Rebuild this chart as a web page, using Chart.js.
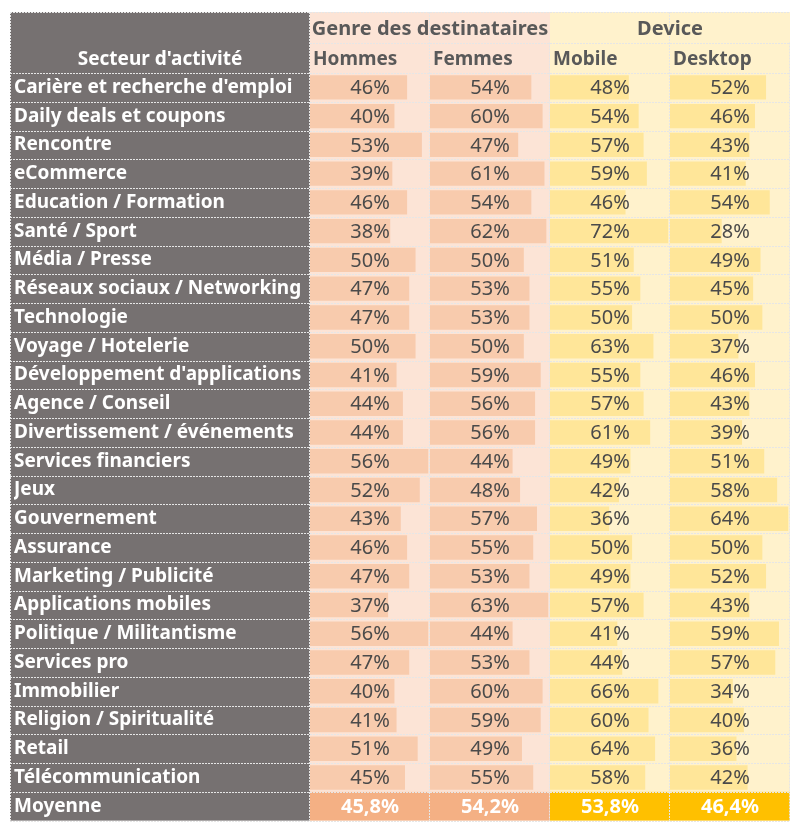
<!DOCTYPE html>
<html>
<head>
<meta charset="utf-8">
<script src="https://cdn.jsdelivr.net/npm/chart.js@4.4.1/dist/chart.umd.min.js"></script>
<style>
html, body { margin: 0; padding: 0; background: #fff; }
#chart-container { width: 797px; height: 835px; }
</style>
</head>
<body>
<div id="chart-container"><canvas id="chart"></canvas></div>
<script>
const sectors = [
    "Carière et recherche d'emploi", "Daily deals et coupons", "Rencontre", "eCommerce",
    "Education / Formation", "Santé / Sport", "Média / Presse", "Réseaux sociaux / Networking",
    "Technologie", "Voyage / Hotelerie", "Développement d'applications", "Agence / Conseil",
    "Divertissement / événements", "Services financiers", "Jeux", "Gouvernement", "Assurance",
    "Marketing / Publicité", "Applications mobiles", "Politique / Militantisme", "Services pro",
    "Immobilier", "Religion / Spiritualité", "Retail", "Télécommunication"
];
const summaryLabel = "Moyenne";
const hommes  = [46, 40, 53, 39, 46, 38, 50, 47, 47, 50, 41, 44, 44, 56, 52, 43, 46, 47, 37, 56, 47, 40, 41, 51, 45];
const femmes  = [54, 60, 47, 61, 54, 62, 50, 53, 53, 50, 59, 56, 56, 44, 48, 57, 55, 53, 63, 44, 53, 60, 59, 49, 55];
const mobile  = [48, 54, 57, 59, 46, 72, 51, 55, 50, 63, 55, 57, 61, 49, 42, 36, 50, 49, 57, 41, 44, 66, 60, 64, 58];
const desktop = [52, 46, 43, 41, 54, 28, 49, 45, 50, 37, 46, 43, 39, 51, 58, 64, 50, 52, 43, 59, 57, 34, 40, 36, 42];
const averages = [45.8, 54.2, 53.8, 46.4];

const columnLabels = ["Hommes", "Femmes", "Mobile", "Desktop"];
const groupLabels = ["Genre des destinataires", "Device"];
const sectorHeader = "Secteur d'activité";

const columnData = [hommes, femmes, mobile, desktop];
const axisIds = ["xH", "xF", "xM", "xD"];
const cellColors = ["#fce4d6", "#fce4d6", "#fff2cc", "#fff2cc"];
const barColors = ["#f8cbad", "#f8cbad", "#ffe699", "#ffe699"];
const avgColors = ["#f4b084", "#f4b084", "#ffc000", "#ffc000"];
const grayColor = "#767171";
const lineColor = "#e6e6e6";
const FONT = "'Noto Sans'";

const tableLeft = 10;
const tableTop = 12;

function fmtAvg(v) {
    return v.toFixed(1).replace(".", ",") + "%";
}

const tablePlugin = {
    id: "tablePlugin",
    beforeDraw(chart) {
        const ctx = chart.ctx;
        const area = chart.chartArea;
        const y = chart.scales.y;
        const rowH = y.getPixelForValue(1) - y.getPixelForValue(0);
        const headerMid = (tableTop + area.top) / 2;
        const lastTop = y.getPixelForValue(sectors.length) - rowH / 2;

        ctx.save();
        // left gray column
        ctx.fillStyle = grayColor;
        ctx.fillRect(tableLeft, tableTop, area.left - tableLeft, area.bottom - tableTop);

        // column backgrounds + summary row
        axisIds.forEach((id, i) => {
            const s = chart.scales[id];
            ctx.fillStyle = cellColors[i];
            ctx.fillRect(s.left, tableTop, s.right - s.left, lastTop - tableTop);
            ctx.fillStyle = avgColors[i];
            ctx.fillRect(s.left, lastTop, s.right - s.left, area.bottom - lastTop);
        });

        // dotted borders
        ctx.strokeStyle = lineColor;
        ctx.lineWidth = 1;
        ctx.setLineDash([2, 1]);
        const hLine = (x1, x2, yy) => {
            ctx.beginPath();
            ctx.moveTo(x1, Math.round(yy) + 0.5);
            ctx.lineTo(x2, Math.round(yy) + 0.5);
            ctx.stroke();
        };
        const vLine = (xx, y1, y2) => {
            ctx.beginPath();
            ctx.moveTo(Math.round(xx) - 0.5, y1);
            ctx.lineTo(Math.round(xx) - 0.5, y2);
            ctx.stroke();
        };
        hLine(tableLeft, area.right, tableTop);
        hLine(area.left, area.right, headerMid);
        for (let j = 0; j <= sectors.length + 1; j++) {
            hLine(tableLeft, area.right, y.getPixelForValue(j) - rowH / 2);
        }
        vLine(tableLeft + 1, tableTop, area.bottom);
        vLine(area.left, tableTop, area.bottom);
        axisIds.forEach((id, i) => {
            const s = chart.scales[id];
            const startY = (i % 2 === 1) ? headerMid : tableTop;
            vLine(s.right, startY, area.bottom);
        });
        ctx.setLineDash([]);

        // header texts
        ctx.textBaseline = "middle";
        ctx.fillStyle = "#ffffff";
        ctx.font = "bold 19px " + FONT;
        ctx.textAlign = "center";
        ctx.fillText(sectorHeader, (tableLeft + area.left) / 2, (headerMid + area.top) / 2 + 2);

        ctx.fillStyle = "#595959";
        ctx.font = "bold 20px " + FONT;
        groupLabels.forEach((g, k) => {
            const a = chart.scales[axisIds[k * 2]];
            const b = chart.scales[axisIds[k * 2 + 1]];
            ctx.fillText(g, (a.left + b.right) / 2, (tableTop + headerMid) / 2 + 2);
        });
        ctx.textAlign = "left";
        ctx.font = "bold 19px " + FONT;
        axisIds.forEach((id, i) => {
            const s = chart.scales[id];
            ctx.fillText(columnLabels[i], s.left + 3, (headerMid + area.top) / 2 + 2);
        });
        ctx.restore();
    },
    afterDatasetsDraw(chart) {
        const ctx = chart.ctx;
        const y = chart.scales.y;
        ctx.save();
        ctx.textAlign = "center";
        ctx.textBaseline = "middle";
        axisIds.forEach((id, i) => {
            const s = chart.scales[id];
            const cx = (s.left + s.right) / 2;
            ctx.fillStyle = "#4a4a4a";
            ctx.font = "20px " + FONT;
            columnData[i].forEach((v, j) => {
                ctx.fillText(v + "%", cx, y.getPixelForValue(j) + 1);
            });
            ctx.fillStyle = "#ffffff";
            ctx.font = "bold 20px " + FONT;
            ctx.fillText(fmtAvg(averages[i]), cx, y.getPixelForValue(sectors.length) + 1);
        });
        ctx.restore();
    }
};

const xScales = {};
axisIds.forEach((id, i) => {
    xScales[id] = {
        type: "linear",
        position: "bottom",
        stack: "cols",
        stackWeight: 1,
        min: 0,
        max: Math.max(...columnData[i]) * 1.015,
        display: false
    };
});

new Chart(document.getElementById("chart").getContext("2d"), {
    type: "bar",
    data: {
        labels: [...sectors, summaryLabel],
        datasets: columnData.map((d, i) => ({
            label: columnLabels[i],
            data: d,
            xAxisID: axisIds[i],
            yAxisID: "y",
            backgroundColor: barColors[i],
            grouped: false,
            categoryPercentage: 0.85,
            barPercentage: 1
        }))
    },
    options: {
        indexAxis: "y",
        responsive: true,
        maintainAspectRatio: false,
        animation: false,
        layout: { padding: { top: 73, left: 14, right: 7, bottom: 9 } },
        plugins: {
            legend: { display: false },
            tooltip: { enabled: false }
        },
        scales: {
            y: {
                type: "category",
                position: "left",
                grid: { display: false },
                border: { display: false },
                ticks: {
                    autoSkip: false,
                    crossAlign: "far",
                    color: "#ffffff",
                    font: { family: "Noto Sans", size: 19, weight: "bold" }
                },
                afterFit(scale) { scale.width = 296; }
            },
            ...xScales
        }
    },
    plugins: [tablePlugin]
});
</script>
</body>
</html>
